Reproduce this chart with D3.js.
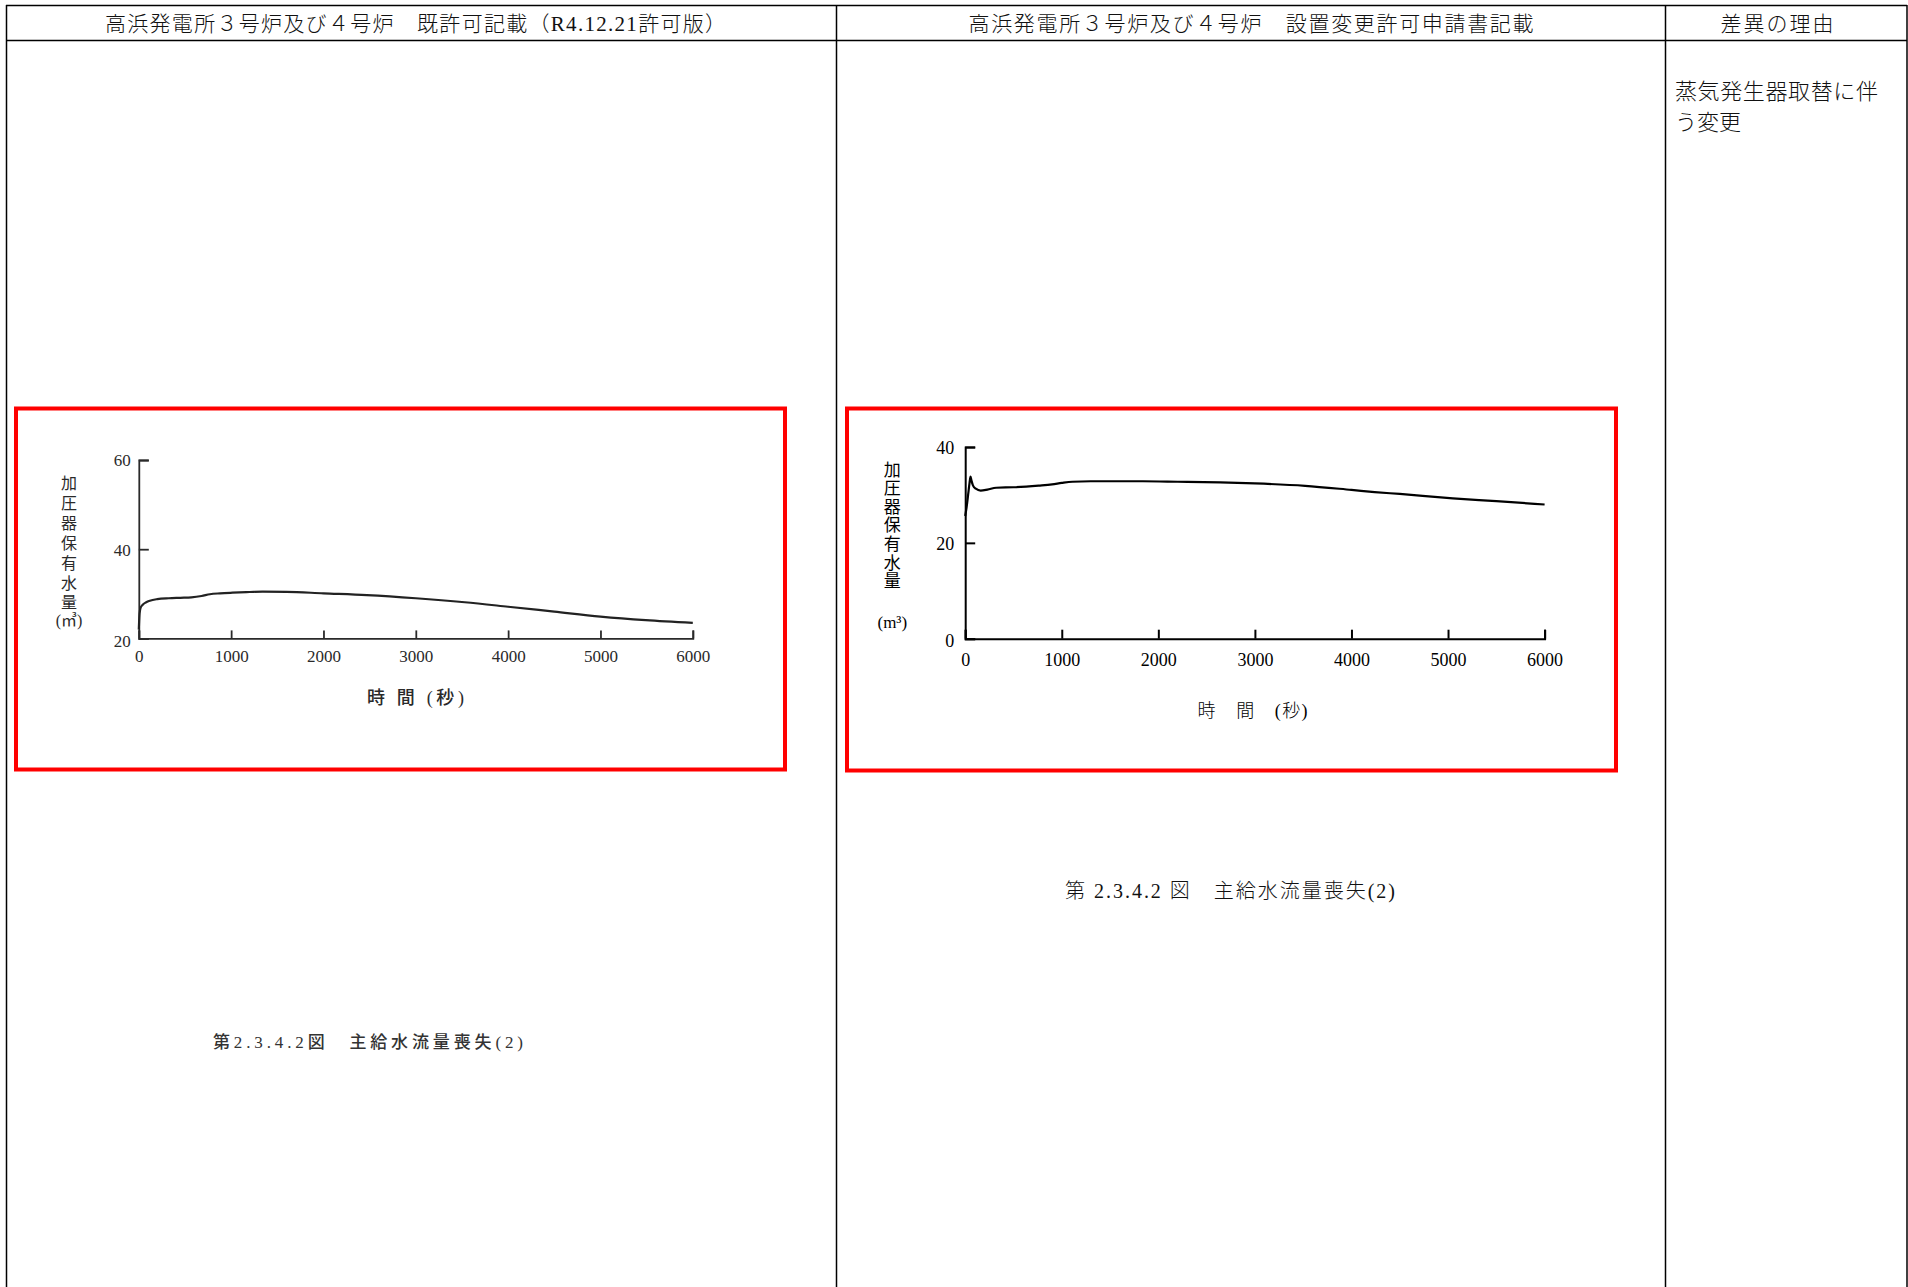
<!DOCTYPE html>
<html><head><meta charset="utf-8">
<script src="https://cdn.jsdelivr.net/npm/d3@7"></script>
<style>body{margin:0;background:#fff} svg{display:block}</style>
</head><body>
<script>
// ---------- data ----------
const headerTexts = ["高浜発電所３号炉及び４号炉　既許可記載（R4.12.21許可版）", "高浜発電所３号炉及び４号炉　設置変更許可申請書記載", "差異の理由"];
const reasonLines = ["蒸気発生器取替に伴", "う変更"];
const timeTicks = [0, 1000, 2000, 3000, 4000, 5000, 6000];
const oldVolumeTicks = [20, 40, 60];
const newVolumeTicks = [0, 20, 40];
const oldTime   = [0, 8, 20, 40, 80, 120, 200, 325, 450, 570, 680, 770, 880, 1015, 1200, 1340, 1600, 2000, 2470, 3000, 3530, 4000, 4500, 5000, 5490, 6000];
const oldVolume = [22.0, 25.5, 26.9, 27.5, 28.1, 28.45, 28.8, 29.0, 29.1, 29.2, 29.5, 29.9, 30.1, 30.25, 30.4, 30.5, 30.45, 30.1, 29.7, 29.0, 28.1, 27.1, 26.0, 24.9, 24.1, 23.5];
const newTime   = [0, 15, 30, 45, 55, 65, 80, 110, 160, 230, 320, 500, 760, 900, 1000, 1110, 1300, 1500, 1840, 2200, 2640, 3000, 3520, 4000, 4240, 4500, 5050, 5500, 6000];
const newVolume = [25.6, 27.5, 30.0, 32.5, 33.8, 33.0, 32.0, 31.3, 30.9, 31.1, 31.5, 31.6, 31.95, 32.2, 32.5, 32.75, 32.85, 32.85, 32.85, 32.75, 32.6, 32.4, 31.9, 31.05, 30.6, 30.2, 29.3, 28.7, 28.0];
const yAxisTitle = "加圧器保有水量";
const oldUnit = "(㎥)";
const newUnit = "(m³)";
const oldXTitle = "時 間 (秒)";
const newXTitle = "時　間　(秒)";
const oldCaption = "第2.3.4.2図　主給水流量喪失(2)";
const newCaption = "第 2.3.4.2 図　主給水流量喪失(2)";

// ---------- layout ----------
const W = 1908, H = 1287;
const CJK = "'Liberation Serif','Noto Sans CJK JP',sans-serif";
const svg = d3.select("body").append("svg").attr("width", W).attr("height", H);
svg.append("rect").attr("width", W).attr("height", H).attr("fill", "#fff");

// table
const tbl = svg.append("g").attr("stroke", "#000").attr("stroke-width", 1.5).attr("fill", "none");
tbl.append("line").attr("x1", 6).attr("x2", 1907).attr("y1", 5.5).attr("y2", 5.5);
tbl.append("line").attr("x1", 6).attr("x2", 1907).attr("y1", 40.5).attr("y2", 40.5);
[6.5, 836.5, 1665.5, 1907].forEach(x => tbl.append("line").attr("x1", x).attr("x2", x).attr("y1", 5).attr("y2", H + 2));

const headerPos = [{cx: 415.5, w: 621}, {cx: 1251, w: 565}, {cx: 1777, w: 113}];
headerTexts.forEach((t, i) => {
  svg.append("text").attr("x", headerPos[i].cx).attr("y", 24)
    .attr("text-anchor", "middle").attr("dominant-baseline", "central")
    .attr("font-family", CJK).attr("font-size", 21).attr("font-weight", 300)
    .attr("textLength", headerPos[i].w).attr("lengthAdjust", "spacing")
    .attr("fill", "#111").text(t);
});
reasonLines.forEach((t, i) => {
  const el = svg.append("text").attr("x", 1675).attr("y", 91 + i * 31)
    .attr("dominant-baseline", "central")
    .attr("font-family", CJK).attr("font-size", 22).attr("font-weight", 300)
    .attr("fill", "#111").text(t);
  if (i === 0) el.attr("textLength", 203).attr("lengthAdjust", "spacing");
});

// red frames
svg.append("rect").attr("x", 16).attr("y", 408.5).attr("width", 769).attr("height", 361)
  .attr("fill", "none").attr("stroke", "#ff0000").attr("stroke-width", 4);
svg.append("rect").attr("x", 847).attr("y", 408.5).attr("width", 769).attr("height", 362)
  .attr("fill", "none").attr("stroke", "#ff0000").attr("stroke-width", 4);

function drawChart(cfg) {
  const g = svg.append("g");
  const x = d3.scaleLinear().domain([0, 6000]).range([cfg.x0, cfg.x1]);
  const y = d3.scaleLinear().domain(cfg.yDomain).range([cfg.yBottom, cfg.yTop]);

  const xa = g.append("g").attr("transform", `translate(0,${cfg.yBottom})`)
    .call(d3.axisBottom(x).tickValues(timeTicks).tickSize(-cfg.xTick).tickFormat(d3.format("d")));
  const ya = g.append("g").attr("transform", `translate(${cfg.x0},0)`)
    .call(d3.axisLeft(y).tickValues(cfg.yTicks).tickSize(-cfg.yTick).tickFormat(d3.format("d")));
  [xa, ya].forEach(a => {
    a.selectAll("path,line").attr("stroke", cfg.axisColor).attr("stroke-width", cfg.axisWidth);
    a.selectAll("text").attr("font-family", "'Liberation Serif',serif")
      .attr("font-size", cfg.tickFont).attr("fill", cfg.textColor);
  });
  xa.selectAll(".tick text").attr("y", cfg.xLabelOffset).attr("dy", "0.35em");
  ya.selectAll(".tick text").attr("x", -cfg.yLabelGap).attr("dy", "0.35em");
  if (cfg.yBottomLabelShift) ya.selectAll(".tick text").filter(d => d === cfg.yDomain[0]).attr("dy", (0.35 * cfg.tickFont + cfg.yBottomLabelShift) + "px");

  const line = d3.line().x((d, i) => x(cfg.t[i])).y(d => y(d)).curve(d3.curveMonotoneX);
  g.append("path").datum(cfg.v).attr("d", line).attr("fill", "none")
    .attr("stroke", cfg.lineColor).attr("stroke-width", cfg.lineWidth).attr("stroke-linejoin", "round");

  // vertical y title
  Array.from(yAxisTitle).forEach((ch, i) => {
    g.append("text").attr("x", cfg.titleX).attr("y", cfg.titleY0 + i * cfg.titleStep)
      .attr("text-anchor", "middle").attr("dominant-baseline", "central")
      .attr("font-family", CJK).attr("font-size", cfg.titleFont).attr("fill", cfg.textColor).text(ch);
  });
  g.append("text").attr("x", cfg.titleX).attr("y", cfg.unitY)
    .attr("text-anchor", "middle").attr("dominant-baseline", "central")
    .attr("font-family", CJK).attr("font-size", cfg.titleFont).attr("fill", cfg.textColor).text(cfg.unit);

  g.append("text").attr("x", cfg.xTitleX).attr("y", cfg.xTitleY)
    .attr("text-anchor", "middle").attr("dominant-baseline", "central")
    .attr("font-family", CJK).attr("font-size", cfg.xTitleFont).attr("font-weight", cfg.xTitleWeight)
    .attr("textLength", cfg.xTitleW).attr("lengthAdjust", "spacing")
    .attr("fill", cfg.textColor).text(cfg.xTitle);
}

drawChart({
  x0: 138.8, x1: 692.8, yBottom: 638.4, yTop: 460, yDomain: [20, 60], yTicks: oldVolumeTicks,
  xTick: 8, yTick: 10, axisColor: "#2a2a2a", axisWidth: 1.8, textColor: "#2a2a2a", tickFont: 17,
  xLabelOffset: 18, yLabelGap: 8, yBottomLabelShift: 2,
  t: oldTime, v: oldVolume, lineColor: "#222", lineWidth: 2.2,
  titleX: 69, titleY0: 483.5, titleStep: 19.9, titleFont: 16, unit: oldUnit, unitY: 620,
  xTitle: oldXTitle, xTitleX: 415.5, xTitleY: 698, xTitleFont: 18, xTitleWeight: 500, xTitleW: 97
});
drawChart({
  x0: 965.2, x1: 1544.6, yBottom: 638.7, yTop: 447, yDomain: [0, 40], yTicks: newVolumeTicks,
  xTick: 9, yTick: 10, axisColor: "#000", axisWidth: 2, textColor: "#000", tickFont: 18,
  xLabelOffset: 21, yLabelGap: 11, yBottomLabelShift: 1,
  t: newTime, v: newVolume, lineColor: "#000", lineWidth: 2.2,
  titleX: 892.3, titleY0: 470, titleStep: 18.6, titleFont: 17, unit: newUnit, unitY: 622,
  xTitle: newXTitle, xTitleX: 1252.5, xTitleY: 711, xTitleFont: 18, xTitleWeight: 300, xTitleW: 110
});

// captions
svg.append("text").attr("x", 213).attr("y", 1042).attr("dominant-baseline", "central")
  .attr("font-family", CJK).attr("font-size", 17).attr("font-weight", 500).attr("fill", "#333")
  .attr("textLength", 310).attr("lengthAdjust", "spacing").text(oldCaption);
svg.append("text").attr("x", 1065).attr("y", 891).attr("dominant-baseline", "central")
  .attr("font-family", CJK).attr("font-size", 20).attr("font-weight", 300).attr("fill", "#111")
  .attr("textLength", 330).attr("lengthAdjust", "spacing").text(newCaption);
</script>
</body></html>
